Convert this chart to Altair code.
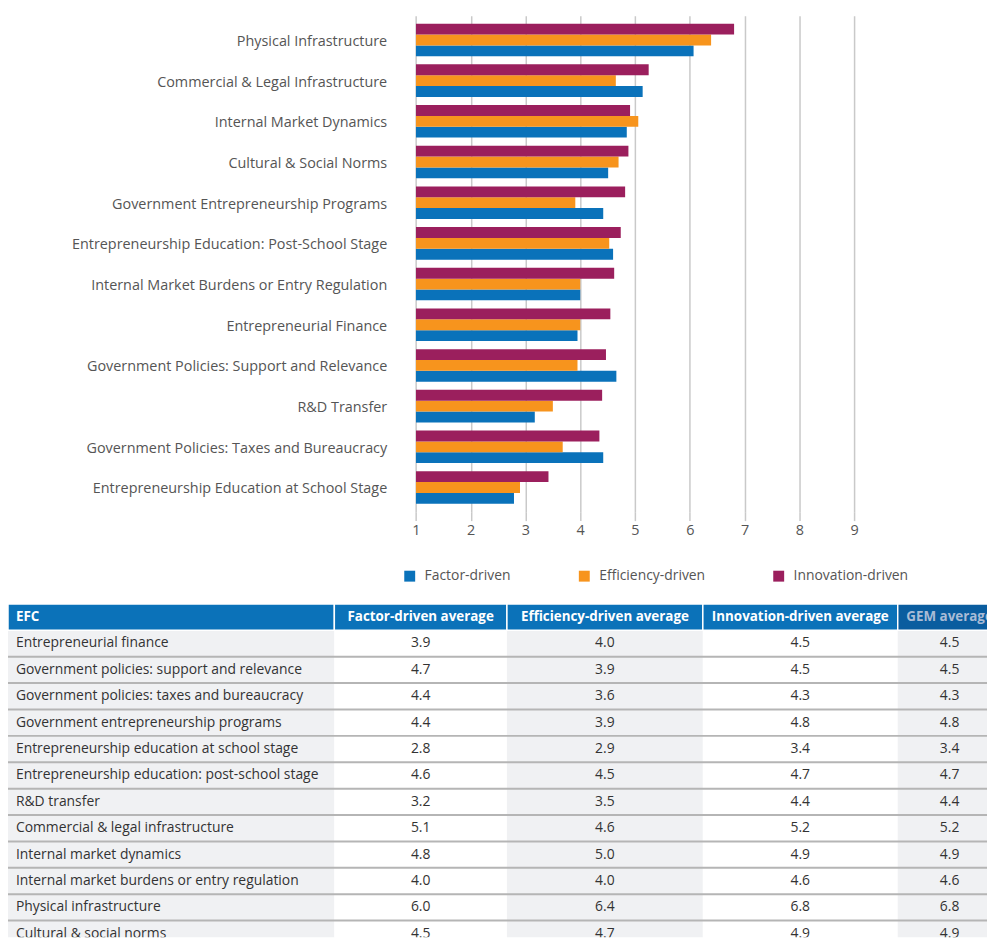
import altair as alt
import pandas as pd

# ---------------- Bar chart data ----------------
chart_categories = [
    "Physical Infrastructure",
    "Commercial & Legal Infrastructure",
    "Internal Market Dynamics",
    "Cultural & Social Norms",
    "Government Entrepreneurship Programs",
    "Entrepreneurship Education: Post-School Stage",
    "Internal Market Burdens or Entry Regulation",
    "Entrepreneurial Finance",
    "Government Policies: Support and Relevance",
    "R&D Transfer",
    "Government Policies: Taxes and Bureaucracy",
    "Entrepreneurship Education at School Stage",
]
factor_values = [6.07, 5.14, 4.85, 4.51, 4.42, 4.60, 4.00, 3.95, 4.66, 3.17, 4.42, 2.79]
efficiency_values = [6.39, 4.65, 5.06, 4.70, 3.91, 4.53, 4.00, 4.00, 3.95, 3.50, 3.68, 2.90]
innovation_values = [6.81, 5.25, 4.91, 4.88, 4.82, 4.74, 4.62, 4.55, 4.47, 4.40, 4.35, 3.42]

series_names = ["Factor-driven", "Efficiency-driven", "Innovation-driven"]
series_colors = ["#0a72ba", "#f7941d", "#9b1f5d"]
x_ticks = [1, 2, 3, 4, 5, 6, 7, 8, 9]

# ---------------- Table data ----------------
table_header = ["EFC", "Factor-driven average", "Efficiency-driven average",
                "Innovation-driven average", "GEM average"]
table_efc = [
    "Entrepreneurial finance",
    "Government policies: support and relevance",
    "Government policies: taxes and bureaucracy",
    "Government entrepreneurship programs",
    "Entrepreneurship education at school stage",
    "Entrepreneurship education: post-school stage",
    "R&D transfer",
    "Commercial & legal infrastructure",
    "Internal market dynamics",
    "Internal market burdens or entry regulation",
    "Physical infrastructure",
    "Cultural & social norms",
]
table_factor = ["3.9", "4.7", "4.4", "4.4", "2.8", "4.6", "3.2", "5.1", "4.8", "4.0", "6.0", "4.5"]
table_efficiency = ["4.0", "3.9", "3.6", "3.9", "2.9", "4.5", "3.5", "4.6", "5.0", "4.0", "6.4", "4.7"]
table_innovation = ["4.5", "4.5", "4.3", "4.8", "3.4", "4.7", "4.4", "5.2", "4.9", "4.6", "6.8", "4.9"]
table_gem = ["4.5", "4.5", "4.3", "4.8", "3.4", "4.7", "4.4", "5.2", "4.9", "4.6", "6.8", "4.9"]

# layout / style
table_col_widths = [329, 174, 197.5, 196.5, 104.5]
header_fills = ["#0b72b9", "#0b72b9", "#0b72b9", "#0b72b9", "#0a5d9f"]
header_text_colors = ["#ffffff", "#ffffff", "#ffffff", "#ffffff", "#a9bcd6"]
body_fills = ["#f0f1f3", "#ffffff", "#f0f1f3", "#ffffff", "#f0f1f3"]

FONT = "Open Sans"
PANEL_W = 987

# ---------------- Bar panel ----------------
rows = []
for i, cat in enumerate(chart_categories):
    for s, vals in zip(series_names, [factor_values, efficiency_values, innovation_values]):
        rows.append({"category": cat, "series": s, "value": vals[i]})
bar_df = pd.DataFrame(rows)
label_df = pd.DataFrame({"category": chart_categories})

x_scale = alt.Scale(domain=[-6.451, 11.429], nice=False, zero=False)
y_scale = alt.Scale(domain=chart_categories, paddingInner=0.2, paddingOuter=0.195)

bars = alt.Chart(bar_df).mark_bar().encode(
    x=alt.X("value:Q", scale=x_scale, title=None,
            axis=alt.Axis(values=x_ticks, grid=True, gridColor="#c9c9c9", gridWidth=1.5,
                          domain=False, tickColor="#c9c9c9", tickSize=9, tickWidth=1.5,
                          labelFontSize=14.5, labelFont=FONT, labelColor="#555555",
                          labelPadding=3, format="d")),
    x2=alt.datum(1),
    y=alt.Y("category:N", scale=y_scale, sort=chart_categories, axis=None),
    yOffset=alt.YOffset("series:N",
                        scale=alt.Scale(domain=series_names[::-1], paddingInner=0, paddingOuter=0)),
    color=alt.Color("series:N", scale=alt.Scale(domain=series_names, range=series_colors),
                    legend=alt.Legend(title=None, orient="none", legendX=398, legendY=558,
                                      direction="horizontal", symbolType="square",
                                      symbolSize=121, symbolStrokeWidth=0,
                                      labelFont=FONT, labelFontSize=14, labelColor="#555555",
                                      labelOffset=8, columnPadding=67)),
)

labels = alt.Chart(label_df).mark_text(
    align="right", baseline="middle", dx=-29, dy=2, fontSize=14.5, font=FONT, color="#555555"
).encode(
    x=alt.datum(1),
    y=alt.Y("category:N", scale=y_scale, sort=chart_categories, axis=None),
    text="category:N",
)

bar_panel = alt.layer(bars, labels).properties(width=PANEL_W, height=500)

# ---------------- Table panel ----------------
edges = [0]
for w in table_col_widths:
    edges.append(edges[-1] + w)

cells = []
for c, head in enumerate(table_header):
    cells.append({"row": 0, "x0": edges[c], "x1": edges[c + 1], "xc": (edges[c] + edges[c + 1]) / 2,
                  "y0": 0, "y1": 1, "yc": 0.5, "label": head, "fill": header_fills[c],
                  "tcolor": header_text_colors[c], "left": c == 0})
for r in range(len(table_efc)):
    vals = [table_efc[r], table_factor[r], table_efficiency[r], table_innovation[r], table_gem[r]]
    for c, v in enumerate(vals):
        cells.append({"row": r + 1, "x0": edges[c], "x1": edges[c + 1],
                      "xc": (edges[c] + edges[c + 1]) / 2,
                      "y0": r + 1, "y1": r + 2, "yc": r + 1.5, "label": v, "fill": body_fills[c],
                      "tcolor": "#333333", "left": c == 0})
cell_df = pd.DataFrame(cells)
head_df = cell_df[cell_df["row"] == 0]
body_df = cell_df[cell_df["row"] > 0]
rule_df = pd.DataFrame({"yb": [r + 2 for r in range(len(table_efc))],
                        "x0": [0] * len(table_efc), "x1": [edges[-1]] * len(table_efc)})

tx = alt.Scale(domain=[0, PANEL_W], nice=False, zero=False)
ty = alt.Scale(domain=[0, 12.63], nice=False, zero=False, reverse=True)

body_rect = alt.Chart(body_df).mark_rect(clip=True).encode(
    x=alt.X("x0:Q", scale=tx, axis=None), x2="x1:Q",
    y=alt.Y("y0:Q", scale=ty, axis=None), y2="y1:Q",
    fill=alt.Fill("fill:N", scale=None),
)
head_rect = alt.Chart(head_df).mark_rect(clip=True, stroke="#ffffff", strokeWidth=1.5).encode(
    x=alt.X("x0:Q", scale=tx, axis=None), x2="x1:Q",
    y=alt.Y("y0:Q", scale=ty, axis=None), y2="y1:Q",
    fill=alt.Fill("fill:N", scale=None),
)
rules = alt.Chart(rule_df).mark_rule(clip=True, color="#b5b5b5", strokeWidth=2).encode(
    x=alt.X("x0:Q", scale=tx, axis=None), x2="x1:Q",
    y=alt.Y("yb:Q", scale=ty, axis=None),
)
head_text_left = alt.Chart(head_df[head_df["left"]]).mark_text(
    clip=True, align="left", baseline="middle", dx=8, font=FONT, fontSize=13.5, fontWeight="bold"
).encode(
    x=alt.X("x0:Q", scale=tx, axis=None), y=alt.Y("yc:Q", scale=ty, axis=None),
    text="label:N", color=alt.Color("tcolor:N", scale=None),
)
head_text_center = alt.Chart(head_df[~head_df["left"]]).mark_text(
    clip=True, align="center", baseline="middle", font=FONT, fontSize=13.5, fontWeight="bold"
).encode(
    x=alt.X("xc:Q", scale=tx, axis=None), y=alt.Y("yc:Q", scale=ty, axis=None),
    text="label:N", color=alt.Color("tcolor:N", scale=None),
)
body_text_left = alt.Chart(body_df[body_df["left"]]).mark_text(
    clip=True, align="left", baseline="middle", dx=8, font=FONT, fontSize=14
).encode(
    x=alt.X("x0:Q", scale=tx, axis=None), y=alt.Y("yc:Q", scale=ty, axis=None),
    text="label:N", color=alt.Color("tcolor:N", scale=None),
)
body_text_center = alt.Chart(body_df[~body_df["left"]]).mark_text(
    clip=True, align="center", baseline="middle", font=FONT, fontSize=14
).encode(
    x=alt.X("xc:Q", scale=tx, axis=None), y=alt.Y("yc:Q", scale=ty, axis=None),
    text="label:N", color=alt.Color("tcolor:N", scale=None),
)

table_panel = alt.layer(
    body_rect, head_rect, rules, head_text_left, head_text_center, body_text_left, body_text_center
).properties(width=PANEL_W, height=336)

chart = alt.vconcat(bar_panel, table_panel, spacing=93, bounds="flush").resolve_scale(
    x="independent", y="independent", color="independent"
).properties(
    padding={"left": 0, "right": 0, "top": 4, "bottom": 0}
).configure_view(stroke=None)

chart.save("out.html", embed_options={"renderer": "svg", "actions": False})
